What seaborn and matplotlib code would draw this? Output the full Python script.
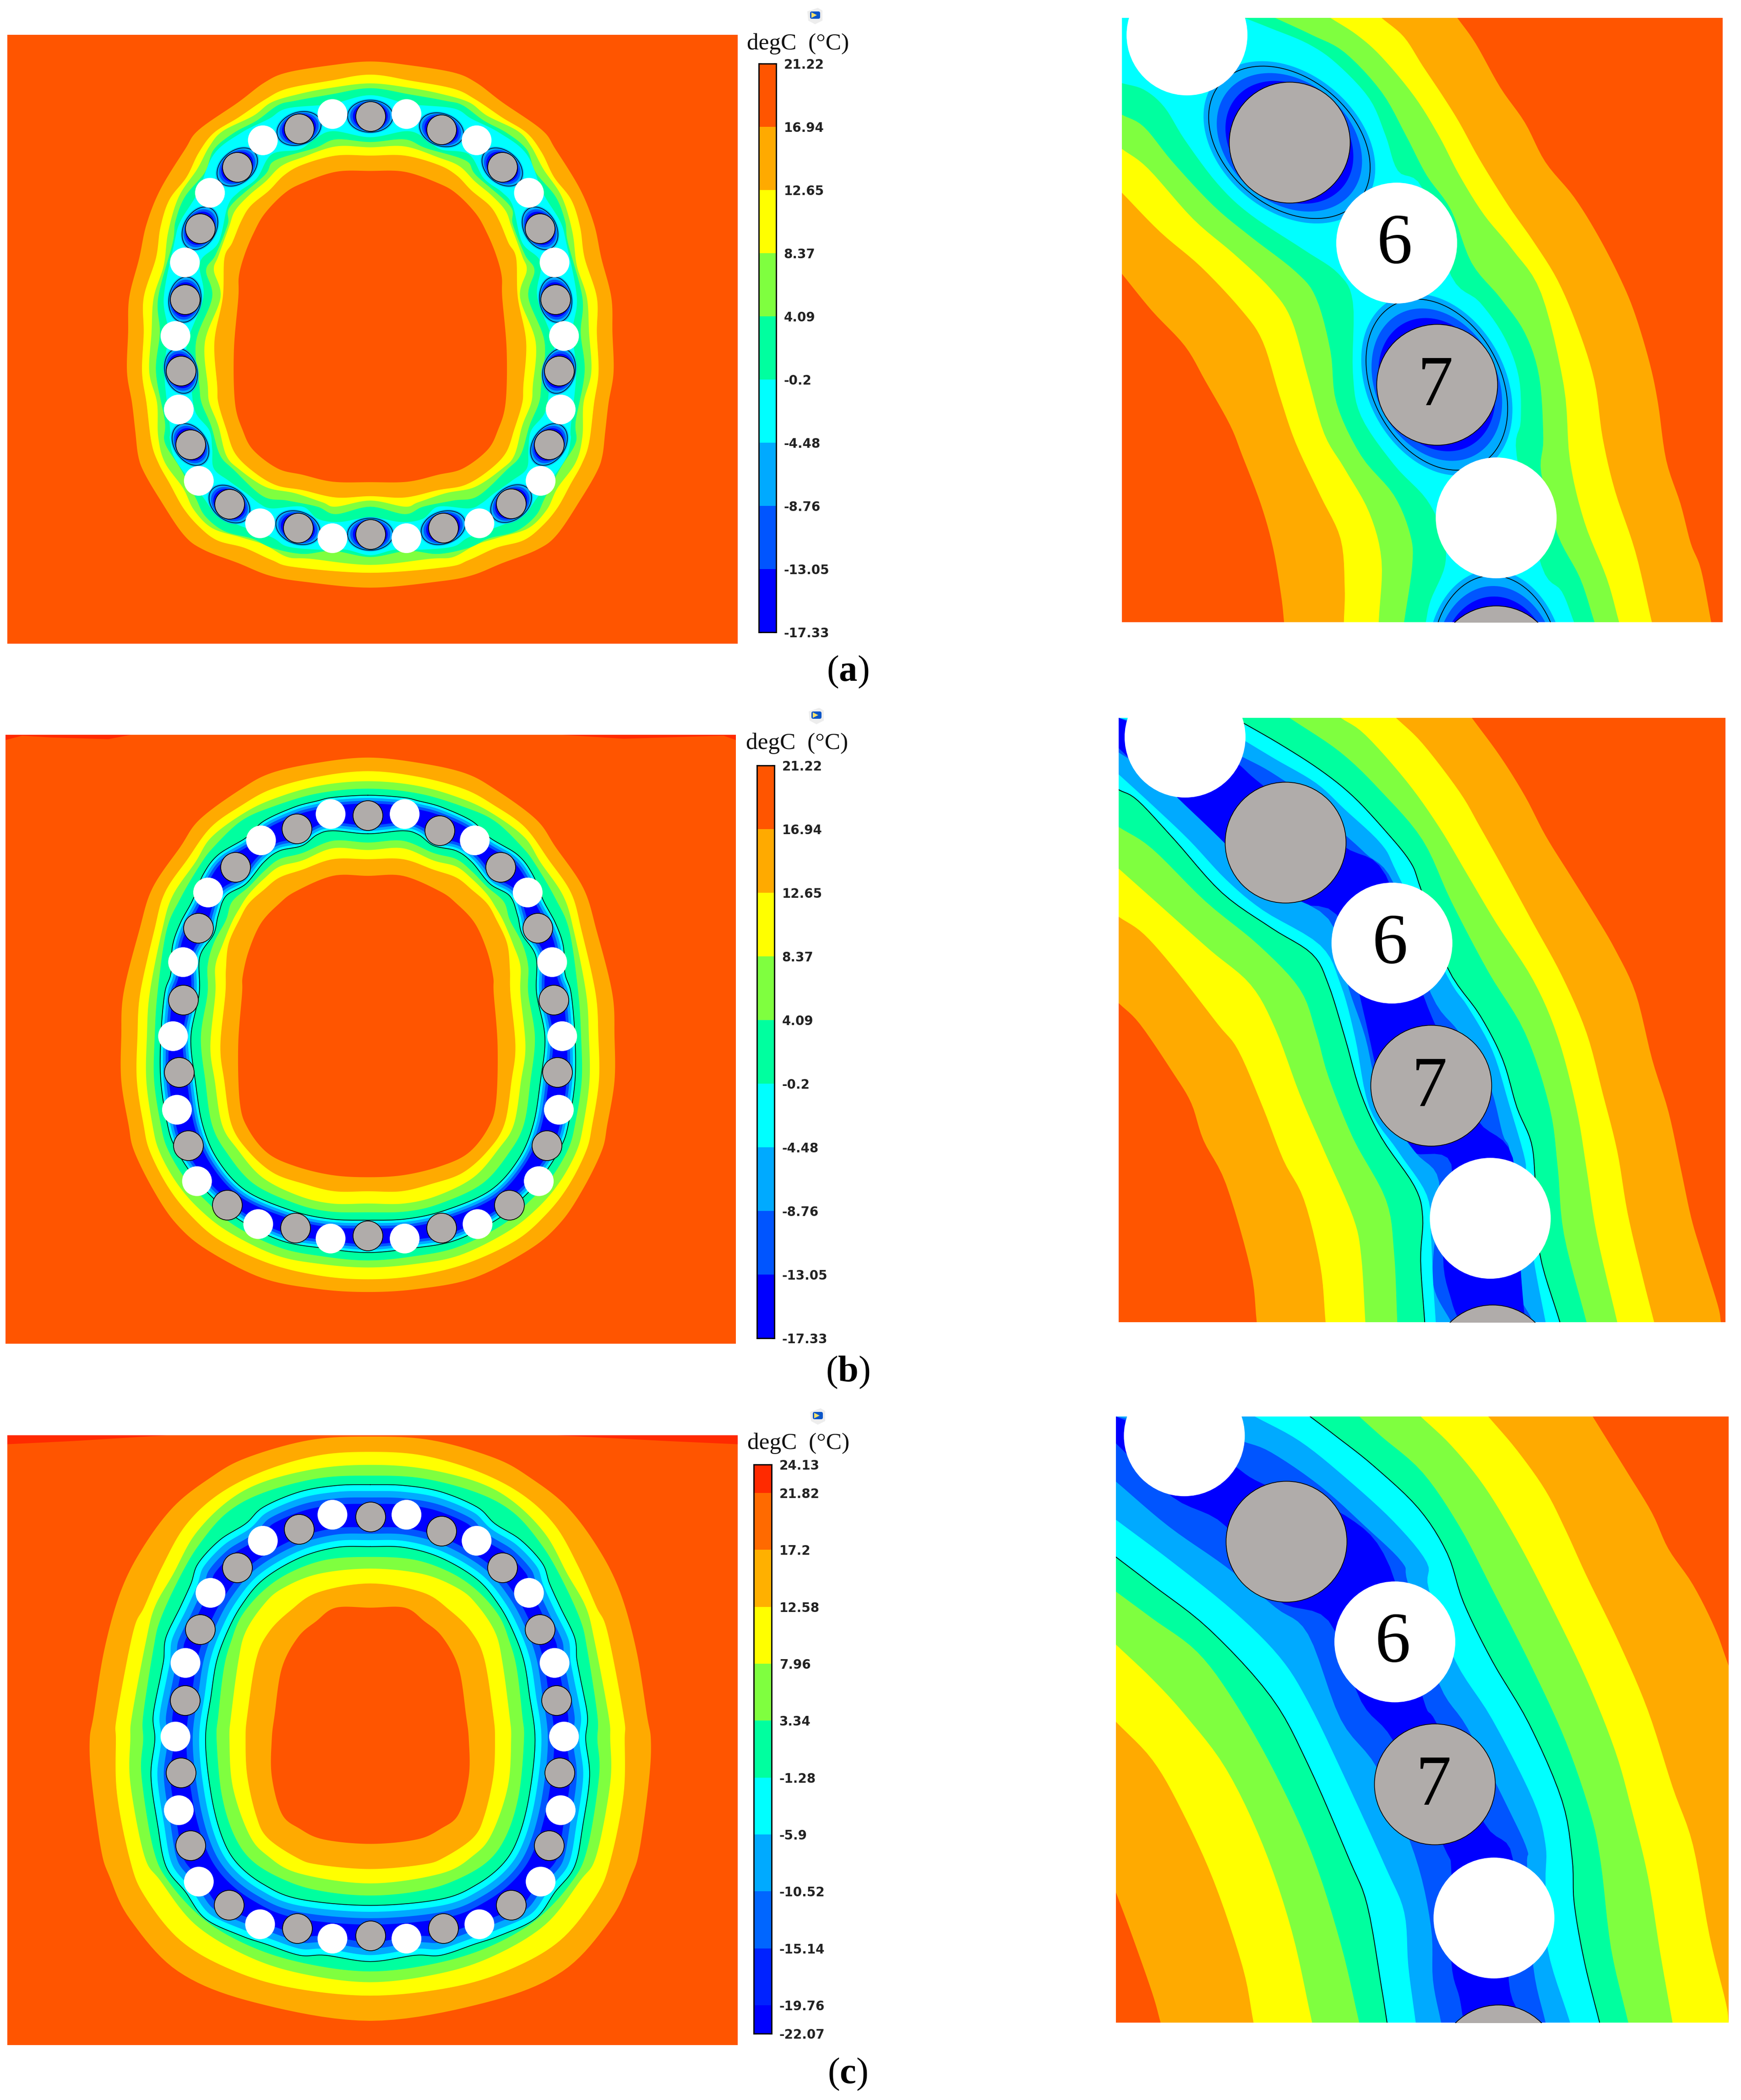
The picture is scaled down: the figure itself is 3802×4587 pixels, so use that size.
import numpy as np
import pandas as pd
import matplotlib
matplotlib.use("Agg")
import matplotlib.pyplot as plt
import seaborn as sns
from matplotlib.colors import ListedColormap
from matplotlib.patches import Polygon, FancyBboxPatch

W, H = 3802, 4587

BG, ORANGE, YELLOW, LIME, SPRING, CYAN = "#FF5500", "#FFAA00", "#FFFF00", "#7FFF3F", "#00FF9F", "#00FFFF"
SKY, MID, DEEP, RED = "#00AAFF", "#0055FF", "#0000FF", "#FF2A00"
PIPE_GRAY = "#B0ACAA"

# colour bars
A_TICKS = ["21.22", "16.94", "12.65", "8.37", "4.09", "-0.2", "-4.48", "-8.76", "-13.05", "-17.33"]
C_TICKS = ["24.13", "21.82", "17.2", "12.58", "7.96", "3.34", "-1.28", "-5.9", "-10.52", "-15.14", "-19.76", "-22.07"]
A_BAR_COLORS = [BG, ORANGE, YELLOW, LIME, SPRING, CYAN, SKY, MID, DEEP]
C_BAR_COLORS = [RED, "#FF6A00", "#FFB000", YELLOW, LIME, SPRING, CYAN, SKY, "#0066FF", "#0022FF", DEEP]
C_BAR_ROWS = [1, 2, 2, 2, 2, 2, 2, 2, 2, 2, 1]

# pipes
A_GRAY_X = [665, 537, 793, 426, 902, 359, 970, 332, 998, 325, 1004, 342, 986, 412, 918, 535, 796, 665]
A_GRAY_Y = [265, 293, 296, 381, 381, 521, 521, 684, 684, 847, 847, 1015, 1015, 1151, 1150, 1205, 1205, 1220]
A_WHITE_X = [597, 730, 472, 856, 377, 950, 332, 996, 315, 1013, 321, 1007, 357, 971, 467, 861, 597, 730]
A_WHITE_Y = [260, 260, 320, 320, 440, 440, 599, 599, 767, 767, 935, 935, 1098, 1098, 1195, 1195, 1229, 1229]
B_GRAY_X = [661, 533, 790, 423, 899, 356, 966, 329, 995, 322, 1001, 338, 982, 408, 915, 531, 793, 661]
B_GRAY_Y = [294, 324, 328, 412, 412, 551, 551, 715, 715, 880, 880, 1047, 1047, 1183, 1183, 1236, 1236, 1253]
B_WHITE_X = [594, 727, 469, 853, 374, 948, 329, 992, 311, 1010, 318, 1004, 354, 968, 464, 858, 594, 727]
B_WHITE_Y = [291, 291, 351, 351, 470, 470, 629, 629, 798, 798, 966, 966, 1129, 1129, 1227, 1227, 1260, 1260]
C_GRAY_X = [665, 537, 793, 426, 902, 359, 970, 332, 999, 325, 1005, 342, 986, 411, 918, 534, 796, 665]
C_GRAY_Y = [268, 296, 300, 382, 382, 519, 519, 677, 677, 838, 838, 1000, 1000, 1133, 1133, 1185, 1185, 1201]
C_WHITE_X = [597, 730, 472, 856, 378, 950, 333, 996, 315, 1013, 321, 1007, 357, 971, 467, 861, 597, 730]
C_WHITE_Y = [264, 264, 322, 322, 438, 438, 594, 594, 758, 758, 922, 922, 1081, 1081, 1176, 1176, 1208, 1208]

# ring contours of the left panels as (half width, y)
A_OUTER = [
    [(0, 140), (67, 148), (149, 165), (190, 188), (237, 233), (308, 296), (333, 341), (377, 432), (402, 512), (415, 589), (433, 679), (435, 760), (437, 850), (428, 920), (422, 986), (417, 1040), (407, 1077), (380, 1136), (336, 1220), (300, 1255), (237, 1286), (182, 1314), (122, 1328), (0, 1342)],
    [(0, 170), (73, 184), (149, 202), (188, 226), (237, 268), (281, 303), (308, 348), (330, 404), (361, 456), (377, 519), (385, 589), (407, 679), (407, 760), (410, 850), (402, 920), (393, 1011), (380, 1059), (360, 1105), (336, 1160), (308, 1202), (275, 1234), (226, 1251), (177, 1279), (136, 1295), (0, 1308)],
    [(0, 190), (70, 200), (127, 214), (177, 233), (210, 264), (265, 299), (289, 334), (311, 386), (344, 449), (363, 529), (371, 606), (389, 679), (393, 760), (397, 850), (383, 920), (381, 997), (369, 1056), (336, 1115), (317, 1164), (284, 1206), (232, 1227), (190, 1244), (149, 1272), (108, 1276), (0, 1290)],
    [(0, 201), (70, 215), (136, 230), (166, 240), (204, 275), (245, 303), (281, 341), (297, 393), (333, 449), (350, 505), (355, 554), (381, 679), (378, 760), (385, 850), (369, 962), (369, 1011), (341, 1070), (314, 1136), (297, 1178), (262, 1213), (212, 1230), (177, 1251), (122, 1265), (67, 1258), (0, 1272)],
    [(0, 217), (70, 237), (149, 247), (182, 271), (232, 303), (281, 352), (310, 440), (341, 505), (352, 554), (371, 679), (363, 760), (370, 850), (360, 976), (360, 1004), (349, 1052), (300, 1136), (275, 1178), (237, 1199), (177, 1227), (149, 1248), (95, 1255), (45, 1255), (0, 1268)],
]
A_INNER = [
    [(0, 313), (67, 299), (100, 317), (127, 341), (177, 352), (204, 407), (237, 439), (256, 470), (273, 554), (306, 599), (300, 679), (330, 790), (322, 880), (314, 941), (289, 983), (284, 1025), (281, 1070), (254, 1098), (223, 1126), (199, 1150), (177, 1161), (122, 1157), (94, 1185), (55, 1192), (0, 1181)],
    [(0, 324), (62, 318), (100, 338), (171, 366), (190, 400), (251, 470), (256, 512), (278, 582), (295, 617), (284, 679), (313, 780), (307, 880), (303, 920), (286, 972), (270, 1039), (245, 1073), (193, 1133), (149, 1143), (95, 1157), (62, 1174), (0, 1157)],
    [(0, 336), (62, 334), (122, 359), (160, 379), (188, 414), (218, 446), (243, 481), (254, 519), (273, 585), (281, 617), (269, 679), (297, 780), (292, 880), (289, 920), (273, 972), (259, 1039), (237, 1070), (188, 1112), (136, 1126), (86, 1147), (62, 1157), (0, 1143)],
    [(0, 355), (62, 355), (122, 376), (155, 400), (182, 435), (215, 470), (232, 505), (248, 554), (262, 589), (265, 679), (280, 780), (275, 880), (273, 920), (259, 979), (243, 1035), (210, 1077), (169, 1108), (122, 1119), (62, 1136), (0, 1133)],
    [(0, 390), (62, 392), (122, 418), (155, 442), (190, 488), (210, 533), (226, 582), (236, 630), (237, 679), (245, 800), (243, 920), (229, 983), (210, 1028), (166, 1070), (122, 1084), (67, 1100), (0, 1101)],
]
B_OUTER = [
    [(0, 162), (91, 174), (173, 197), (228, 234), (302, 303), (337, 366), (387, 460), (411, 558), (439, 700), (443, 800), (443, 900), (430, 1000), (420, 1060), (385, 1150), (345, 1225), (290, 1285), (190, 1350), (90, 1375), (0, 1382)],
    [(0, 193), (91, 206), (173, 234), (228, 272), (282, 321), (324, 394), (365, 471), (384, 558), (409, 700), (414, 800), (415, 900), (403, 1000), (392, 1060), (360, 1140), (320, 1205), (265, 1265), (175, 1318), (85, 1345), (0, 1353)],
    [(0, 216), (91, 227), (173, 258), (228, 293), (282, 345), (310, 401), (351, 478), (370, 558), (392, 700), (397, 800), (398, 900), (387, 1000), (375, 1060), (345, 1130), (305, 1190), (250, 1245), (165, 1298), (85, 1318), (0, 1326)],
    [(0, 233), (91, 244), (173, 275), (228, 307), (277, 366), (302, 408), (337, 484), (362, 558), (378, 700), (383, 800), (384, 900), (372, 1000), (360, 1055), (330, 1120), (290, 1175), (240, 1230), (160, 1280), (85, 1300), (0, 1310)],
    [(0, 248), (63, 253), (91, 261), (132, 275), (187, 307), (219, 345), (269, 384), (296, 429), (315, 488), (337, 540), (351, 592), (354, 655), (365, 700), (372, 800), (372, 900), (360, 1000), (347, 1050), (318, 1110), (280, 1165), (230, 1218), (155, 1265), (80, 1282), (0, 1292)],
]
B_INNER = [
    [(0, 336), (63, 329), (91, 338), (118, 363), (159, 375), (187, 401), (219, 450), (255, 478), (269, 523), (277, 565), (302, 617), (303, 700), (318, 800), (310, 900), (297, 1000), (270, 1080), (220, 1150), (140, 1195), (70, 1215), (0, 1218)],
    [(0, 356), (63, 352), (118, 380), (159, 394), (187, 422), (214, 457), (244, 491), (255, 533), (277, 586), (288, 638), (288, 700), (300, 800), (292, 900), (280, 1000), (253, 1065), (205, 1135), (130, 1180), (70, 1198), (0, 1200)],
    [(0, 373), (63, 369), (118, 397), (159, 411), (187, 439), (214, 474), (230, 505), (244, 537), (261, 589), (274, 638), (274, 700), (283, 820), (275, 900), (262, 1000), (235, 1055), (190, 1120), (125, 1162), (65, 1180), (0, 1180)],
    [(0, 394), (63, 394), (118, 418), (159, 436), (187, 464), (214, 495), (230, 530), (250, 586), (255, 645), (256, 700), (265, 820), (258, 900), (245, 1000), (215, 1060), (170, 1110), (115, 1135), (60, 1152), (0, 1152)],
    [(0, 432), (63, 432), (129, 467), (159, 495), (192, 540), (214, 603), (225, 662), (226, 700), (233, 820), (230, 950), (215, 1010), (180, 1065), (130, 1095), (65, 1115), (0, 1120)],
]
C_OUTER = [
    [(0, 90), (110, 98), (224, 138), (289, 183), (354, 247), (410, 340), (449, 437), (478, 566), (497, 711), (504, 765), (501, 850), (484, 1007), (468, 1071), (432, 1164), (345, 1281), (208, 1350), (0, 1391)],
    [(0, 124), (94, 132), (192, 167), (273, 219), (332, 288), (374, 380), (406, 469), (426, 525), (455, 711), (457, 765), (455, 886), (432, 1031), (406, 1112), (341, 1212), (250, 1277), (143, 1317), (0, 1335)],
    [(0, 153), (94, 161), (192, 191), (257, 235), (315, 308), (354, 396), (387, 469), (403, 546), (428, 711), (431, 765), (431, 862), (406, 1023), (377, 1079), (315, 1176), (224, 1245), (127, 1285), (0, 1305)],
    [(0, 177), (94, 183), (192, 215), (257, 259), (306, 328), (341, 400), (377, 497), (390, 566), (408, 711), (408, 765), (411, 846), (390, 1007), (361, 1083), (296, 1168), (208, 1229), (110, 1265), (0, 1281)],
    [(0, 197), (62, 199), (127, 213), (192, 247), (224, 284), (270, 320), (309, 372), (322, 417), (341, 469), (367, 537), (371, 586), (377, 626), (390, 711), (387, 765), (394, 846), (382, 954), (367, 1047), (332, 1104), (296, 1164), (231, 1202), (188, 1220), (127, 1245), (81, 1245), (0, 1259)],
]
C_INNER = [
    [(0, 335), (62, 337), (127, 360), (192, 408), (231, 465), (257, 525), (276, 590), (286, 667), (296, 765), (286, 886), (267, 979), (240, 1039), (192, 1087), (127, 1120), (0, 1134)],
    [(0, 358), (78, 364), (143, 392), (192, 433), (231, 489), (250, 546), (263, 606), (273, 711), (276, 765), (267, 886), (244, 979), (208, 1039), (143, 1083), (78, 1104), (0, 1112)],
    [(0, 384), (94, 396), (159, 429), (192, 465), (224, 525), (237, 590), (250, 711), (253, 765), (247, 870), (218, 975), (185, 1023), (127, 1063), (0, 1085)],
    [(0, 417), (94, 437), (143, 477), (182, 525), (205, 586), (221, 711), (224, 765), (221, 846), (205, 934), (185, 983), (133, 1027), (94, 1043), (0, 1053)],
    [(0, 471), (62, 471), (97, 501), (130, 537), (159, 606), (172, 711), (177, 765), (177, 846), (159, 930), (127, 963), (84, 987), (0, 997)],
]
B_RED_LEFT = [(10, 110), (235, 110), (195, 120), (90, 116), (40, 112), (10, 122)]
B_RED_RIGHT = [(1010, 110), (1322, 110), (1322, 122), (1300, 112), (1120, 119)]
C_RED_LEFT = [(13, 87), (300, 87), (130, 100), (13, 107)]
C_RED_RIGHT = [(1000, 87), (1325, 87), (1325, 107), (1200, 100)]

# close-up panels: edges run from upper right to lower left
RA_EDGES = [
    ([(875, 41), (920, 100), (980, 200), (1040, 280), (1090, 370), (1160, 450), (1220, 540), (1275, 640), (1310, 720), (1345, 830), (1365, 920), (1385, 1050), (1420, 1150), (1445, 1240), (1470, 1300), (1495, 1420)], ORANGE),
    ([(690, 41), (745, 85), (790, 150), (840, 220), (880, 280), (930, 365), (1000, 470), (1060, 550), (1120, 640), (1170, 750), (1210, 870), (1230, 1000), (1260, 1120), (1310, 1260), (1350, 1420)], YELLOW),
    ([(565, 41), (630, 80), (690, 130), (770, 220), (830, 310), (880, 400), (940, 490), (1010, 570), (1080, 670), (1135, 880), (1150, 1050), (1185, 1190), (1240, 1320), (1270, 1420)], LIME),
    ([(430, 41), (520, 80), (600, 120), (690, 210), (750, 310), (800, 400), (860, 480), (910, 600), (980, 680), (1040, 760), (1075, 860), (1085, 1000), (1080, 1080), (1120, 1220), (1175, 1320), (1210, 1420)], SPRING),
    ([(355, 41), (420, 65), (510, 100), (580, 145), (660, 225), (700, 310), (730, 390), (790, 430), (860, 630), (930, 690), (990, 770), (1025, 860), (1030, 960), (1020, 1040), (1080, 1290), (1130, 1350), (1160, 1420)], CYAN),
    ([(56, 190), (110, 205), (160, 245), (210, 320), (290, 420), (370, 490), (500, 570), (585, 625), (620, 690), (620, 850), (640, 950), (720, 1060), (800, 1140), (840, 1220), (845, 1290), (810, 1370), (798, 1420)], SPRING),
    ([(56, 262), (110, 290), (180, 370), (280, 470), (370, 540), (480, 620), (530, 680), (565, 800), (580, 920), (640, 1040), (720, 1130), (760, 1220), (765, 1290), (745, 1420)], LIME),
    ([(56, 340), (120, 385), (230, 500), (330, 580), (420, 660), (470, 730), (510, 860), (550, 990), (600, 1070), (660, 1170), (690, 1280), (683, 1420)], YELLOW),
    ([(56, 440), (150, 530), (250, 610), (350, 710), (400, 780), (440, 900), (480, 1010), (540, 1130), (590, 1230), (600, 1340), (598, 1420)], ORANGE),
    ([(56, 625), (130, 710), (210, 790), (260, 870), (320, 970), (350, 1040), (395, 1150), (425, 1250), (445, 1360), (452, 1420)], BG),
]
RB_EDGES = [
    ([(910, 71), (980, 160), (1040, 250), (1090, 340), (1150, 430), (1210, 520), (1260, 600), (1310, 700), (1350, 850), (1390, 970), (1420, 1100), (1445, 1210), (1470, 1290), (1510, 1410), (1518, 1450)], ORANGE),
    ([(725, 71), (790, 130), (880, 240), (930, 320), (990, 420), (1060, 540), (1130, 660), (1190, 790), (1230, 930), (1265, 1060), (1290, 1200), (1325, 1340), (1355, 1450)], YELLOW),
    ([(590, 71), (650, 110), (750, 215), (830, 320), (900, 430), (970, 540), (1060, 670), (1120, 800), (1165, 960), (1190, 1100), (1215, 1250), (1265, 1450)], LIME),
    ([(465, 71), (590, 150), (690, 240), (790, 350), (860, 490), (950, 650), (1040, 790), (1100, 960), (1120, 1100), (1135, 1250), (1190, 1450)], SPRING),
    ([(330, 71), (440, 130), (540, 190), (620, 250), (700, 330), (760, 400), (785, 460), (850, 640), (930, 750), (985, 850), (1020, 960), (1055, 1040), (1065, 1130), (1075, 1290), (1125, 1450)], CYAN),
    ([(350, 120), (430, 165), (530, 220), (600, 280), (690, 360), (730, 430), (850, 660), (900, 730), (960, 830), (1000, 950), (1040, 1080), (1040, 1130), (1060, 1300), (1090, 1450)], SKY),
    ([(350, 160), (420, 195), (520, 260), (580, 320), (650, 380), (720, 450), (810, 700), (880, 790), (950, 900), (985, 1020), (1005, 1080), (1010, 1340), (1060, 1450)], MID),
    ([(345, 180), (400, 225), (590, 360), (700, 430), (790, 700), (860, 850), (925, 990), (1010, 1075), (1030, 1340), (1040, 1450)], DEEP),
    ([(48, 140), (170, 250), (240, 300), (310, 380), (430, 490), (580, 520), (640, 720), (720, 1040), (770, 1065), (860, 1090), (840, 1300), (860, 1400), (880, 1450)], MID),
    ([(48, 150), (130, 200), (210, 270), (310, 360), (400, 450), (560, 530), (610, 690), (650, 800), (690, 950), (770, 1060), (830, 1130), (815, 1310), (820, 1380), (860, 1450)], SKY),
    ([(48, 200), (130, 270), (220, 350), (310, 440), (400, 510), (540, 590), (590, 680), (625, 800), (660, 960), (730, 1060), (800, 1160), (810, 1250), (815, 1350), (822, 1450)], CYAN),
    ([(48, 235), (95, 260), (185, 350), (300, 470), (420, 550), (520, 610), (560, 680), (600, 800), (640, 930), (690, 1030), (770, 1140), (790, 1210), (785, 1310), (795, 1450)], SPRING),
    ([(48, 320), (130, 370), (260, 490), (390, 590), (490, 690), (530, 790), (560, 890), (620, 1030), (700, 1170), (720, 1290), (728, 1450)], LIME),
    ([(48, 415), (150, 500), (270, 600), (370, 680), (430, 780), (490, 930), (550, 1060), (620, 1210), (640, 1300), (650, 1450)], YELLOW),
    ([(48, 525), (110, 565), (190, 650), (290, 770), (340, 830), (400, 960), (450, 1080), (500, 1170), (540, 1320), (553, 1450)], ORANGE),
    ([(48, 722), (100, 770), (180, 880), (225, 950), (255, 1035), (310, 1135), (370, 1330), (385, 1450)], BG),
]
RC_EDGES = [
    ([(1205, 45), (1290, 170), (1350, 260), (1390, 340), (1450, 420), (1505, 520), (1545, 620), (1700, 1000), (1700, 1395)], ORANGE),
    ([(950, 45), (1020, 120), (1090, 210), (1140, 300), (1190, 400), (1270, 550), (1340, 700), (1400, 870), (1450, 1000), (1490, 1200), (1530, 1350), (1537, 1395)], YELLOW),
    ([(785, 45), (860, 110), (940, 200), (1020, 320), (1100, 460), (1190, 630), (1260, 790), (1300, 920), (1340, 1070), (1370, 1240), (1400, 1395)], LIME),
    ([(635, 45), (690, 90), (790, 170), (880, 290), (960, 430), (1060, 610), (1140, 770), (1200, 930), (1225, 1040), (1250, 1230), (1292, 1395)], SPRING),
    ([(515, 45), (580, 90), (670, 155), (780, 250), (850, 350), (890, 460), (960, 590), (1050, 730), (1130, 900), (1155, 1030), (1160, 1130), (1185, 1260), (1222, 1395)], CYAN),
    ([(380, 45), (490, 100), (600, 180), (720, 280), (800, 370), (805, 430), (870, 590), (960, 720), (1060, 900), (1090, 1000), (1090, 1080), (1095, 1230), (1150, 1395)], SKY),
    ([(350, 100), (420, 125), (540, 200), (650, 290), (740, 370), (755, 420), (830, 640), (900, 740), (1000, 920), (1045, 1010), (1045, 1050), (1060, 1270), (1090, 1395)], MID),
    ([(330, 155), (400, 195), (600, 265), (710, 380), (790, 670), (825, 730), (940, 950), (1010, 1030), (1000, 1300), (1040, 1395)], DEEP),
    ([(41, 105), (180, 225), (310, 290), (430, 450), (560, 500), (640, 680), (720, 770), (840, 1000), (860, 1060), (860, 1260), (880, 1340), (890, 1395)], MID),
    ([(41, 190), (170, 290), (310, 380), (430, 470), (510, 530), (590, 720), (680, 830), (770, 1020), (810, 1180), (815, 1300), (835, 1395)], SKY),
    ([(41, 275), (180, 370), (330, 480), (440, 580), (510, 680), (600, 850), (700, 1050), (745, 1150), (755, 1270), (773, 1395)], CYAN),
    ([(41, 358), (130, 420), (270, 520), (420, 670), (510, 820), (610, 1030), (655, 1135), (690, 1320), (703, 1395)], SPRING),
    ([(41, 435), (130, 495), (240, 570), (330, 680), (430, 840), (520, 1020), (590, 1220), (635, 1395)], LIME),
    ([(41, 553), (130, 630), (210, 710), (310, 830), (400, 1000), (470, 1190), (520, 1395)], YELLOW),
    ([(41, 725), (130, 810), (200, 920), (280, 1080), (350, 1270), (377, 1395)], ORANGE),
    ([(41, 1105), (80, 1200), (130, 1330), (150, 1395)], BG),
]
RB_BLACK = [4, 11]
RC_BLACK = [4, 11]

# close-up pipes
RA_WHITE_X, RA_WHITE_Y = [215, 727, 970], [80, 555, 1182]
RA_GRAY_X, RA_GRAY_Y = [465, 825, 970], [325, 878, 1520]
RA_HALO_ANGLE = [40, 62, 85]
RB_WHITE_X, RB_WHITE_Y = [210, 715, 955], [115, 585, 1213]
RB_GRAY_X, RB_GRAY_Y = [455, 810, 960], [355, 910, 1548]
RC_WHITE_X, RC_WHITE_Y = [208, 722, 964], [88, 547, 1162]
RC_GRAY_X, RC_GRAY_Y = [457, 819, 975], [323, 864, 1490]


def px_axes(fig, x0, y0, x1, y1):
    return fig.add_axes([x0 / W, 1 - y1 / H, (x1 - x0) / W, (y1 - y0) / H])


def smooth(points, closed=False, n=10):
    """Catmull-Rom curve through the points."""
    p = np.asarray(points, dtype=float)
    if closed:
        p = np.vstack([p[-1], p, p[0], p[1]])
    else:
        p = np.vstack([2 * p[0] - p[1], p, 2 * p[-1] - p[-2]])
    t = np.linspace(0, 1, n, endpoint=False)[:, None]
    out = []
    for i in range(1, len(p) - 2):
        a, b, c, d = p[i - 1], p[i], p[i + 1], p[i + 2]
        out.append(0.5 * (2 * b + (c - a) * t + (2 * a - 5 * b + 4 * c - d) * t ** 2 + (3 * b - a - 3 * c + d) * t ** 3))
    out = np.vstack(out)
    if not closed:
        out = np.vstack([out, p[-2]])
    return out


def ring(edge, cx):
    right = [(cx + hw, y) for hw, y in edge]
    left = [(cx - hw, y) for hw, y in edge[-2:0:-1]]
    return smooth(right + left, closed=True)


def shift_ring(curve, dist, sx, sy):
    """Moves a closed curve towards its own centre by dist pixels."""
    q = curve * [sx, sy]
    tang = np.roll(q, -1, axis=0) - np.roll(q, 1, axis=0)
    norm = np.column_stack([-tang[:, 1], tang[:, 0]])
    norm /= np.maximum(np.linalg.norm(norm, axis=1, keepdims=True), 1e-6)
    mid = q.mean(axis=0)
    flip = np.sign(((mid - q) * norm).sum(axis=1, keepdims=True))
    return (q + norm * flip * dist) / [sx, sy]


def halo(ax, cx, cy, angle, scale, sx, sy, lw):
    """Cold zone round a gray pipe, sized in close-up pixels."""
    th = np.radians(angle)
    t = np.linspace(0, 2 * np.pi, 120)

    def shape(a, b):
        a, b = a * scale, b * scale
        dx = a * np.cos(t) * np.cos(th) - b * np.sin(t) * np.sin(th)
        dy = a * np.cos(t) * np.sin(th) + b * np.sin(t) * np.cos(th)
        return cx + dx / sx, cy + dy / sy

    for a, b, col in [(210, 150, SKY), (175, 132, MID), (152, 120, DEEP)]:
        ax.fill(*shape(a, b), color=col, lw=0, zorder=3)
    ax.plot(*shape(198, 140), color="black", lw=lw, zorder=3.5)


def pipes(ax, x, y, colour, size, edge="none"):
    table = pd.DataFrame({"x": x, "y": y})
    sns.scatterplot(data=table, x="x", y="y", ax=ax, s=size, color=colour, edgecolor=edge,
                    linewidth=1.2 if edge != "none" else 0, zorder=4, legend=False)


def finish(ax, xlim, ylim):
    ax.set_xlim(*xlim)
    ax.set_ylim(*ylim)
    ax.set(xlabel="", ylabel="", xticks=[], yticks=[])
    for s in ax.spines.values():
        s.set_visible(False)


def ring_panel(fig, rect, xlim, ylim, cx, outer, inner, gray, white, band_px=0, halos=False, red=()):
    ax = px_axes(fig, *rect)
    ax.set_facecolor(BG)
    sx = (rect[2] - rect[0]) / (xlim[1] - xlim[0])
    sy = (rect[3] - rect[1]) / (ylim[0] - ylim[1])
    for part in red:
        ax.add_patch(Polygon(part, closed=True, color=RED, lw=0))
    for edge, col in zip(outer, [ORANGE, YELLOW, LIME, SPRING, CYAN]):
        ax.fill(*ring(edge, cx).T, color=col, lw=0)
    if band_px:
        line_out = ring(outer[-1], cx)
        line_in = ring(inner[0], cx)
        for k, col in enumerate([SKY, MID, DEEP], start=1):
            ax.fill(*shift_ring(line_out, k * band_px, sx, sy).T, color=col, lw=0)
        for k, col in zip([3, 2, 1], [MID, SKY, CYAN]):
            ax.fill(*shift_ring(line_in, -k * band_px, sx, sy).T, color=col, lw=0)
    for edge, col in zip(inner, [SPRING, LIME, YELLOW, ORANGE, BG]):
        ax.fill(*ring(edge, cx).T, color=col, lw=0)
    if band_px:
        for line in (line_out, line_in):
            ax.plot(*np.vstack([line, line[0]]).T, color="black", lw=1.1, zorder=2)
    if halos:
        for x, y in zip(*gray):
            angle = np.degrees(np.arctan2((y - 740) * sy, (x - cx) * sx)) + 90
            halo(ax, x, y, angle, 0.25, sx, sy, 0.9)
    pipes(ax, gray[0], gray[1], PIPE_GRAY, 2190, "black")
    pipes(ax, white[0], white[1], "white", 2190)
    finish(ax, xlim, ylim)


def zoom_panel(fig, rect, xlim, ylim, edges, black, gray, white, halo_angles=None):
    ax = px_axes(fig, *rect)
    ax.set_facecolor(BG)
    sx = (rect[2] - rect[0]) / (xlim[1] - xlim[0])
    sy = (rect[3] - rect[1]) / (ylim[0] - ylim[1])
    for pts, col in edges:
        curve = smooth(pts, n=6)
        tail = [(xlim[0], ylim[0])]
        if pts[0][0] > xlim[0]:
            tail.append((xlim[0], ylim[1]))
        ax.fill(*np.vstack([curve, tail]).T, color=col, lw=0)
    for i in black:
        ax.plot(*smooth(edges[i][0], n=6).T, color="black", lw=1.3, zorder=2)
    if halo_angles:
        for x, y, ang in zip(gray[0], gray[1], halo_angles):
            halo(ax, x, y, ang, 1.0, sx, sy, 1.2)
    pipes(ax, gray[0], gray[1], PIPE_GRAY, 36130, "black")
    pipes(ax, white[0], white[1], "white", 36130)
    ax.text(white[0][1] - 5, white[1][1] + 5, "6", family="Liberation Serif", fontsize=112,
            ha="center", va="center", color="black", zorder=6)
    ax.text(gray[0][1] - 3, gray[1][1] + 7, "7", family="Liberation Serif", fontsize=112,
            ha="center", va="center", color="black", zorder=6)
    finish(ax, xlim, ylim)


def colour_bar(fig, rect, colors, rows, ticks):
    ax = px_axes(fig, *rect)
    codes = np.repeat(np.arange(len(colors)), rows)[:, None]
    sns.heatmap(codes, ax=ax, cmap=ListedColormap(colors), vmin=-0.5, vmax=len(colors) - 0.5,
                cbar=False, xticklabels=False, yticklabels=False)
    for s in ax.spines.values():
        s.set_visible(True)
        s.set_color("black")
        s.set_linewidth(2.0)
    pos = np.concatenate([[0], np.cumsum(rows)])
    ax.set_yticks(pos)
    ax.set_yticklabels(ticks, fontsize=20, fontweight="bold", color="#222222", family="DejaVu Sans")
    ax.tick_params(axis="y", left=True, right=True, labelleft=False, labelright=True,
                   direction="in", length=4, width=2, pad=12, color="black")


def icon(fig, x, y):
    ax = px_axes(fig, x - 20, y - 20, x + 20, y + 20)
    ax.set_xlim(0, 40)
    ax.set_ylim(40, 0)
    ax.axis("off")
    ax.add_patch(Polygon([(3, 10), (26, 2), (36, 8), (36, 30), (20, 38), (5, 30)], color="#EDEDED", lw=0))
    ax.add_patch(FancyBboxPatch((9, 10), 22, 16, boxstyle="round,pad=0,rounding_size=4", color="#0A55C8", lw=0))
    ax.add_patch(Polygon([(12, 12), (24, 18), (12, 24)], color="#F5E06A", lw=0))


def main():
    sns.set_theme(style="white")
    plt.rcParams["font.family"] = ["DejaVu Sans"]
    plt.rcParams["mathtext.fontset"] = "custom"
    plt.rcParams["mathtext.rm"] = "Liberation Serif"
    plt.rcParams["mathtext.bf"] = "Liberation Serif:bold"
    fig = plt.figure(figsize=(W / 100, H / 100), dpi=100, facecolor="white")

    ring_panel(fig, (16, 76, 1611, 1406), (13, 1325), (1470, 79), 665, A_OUTER, A_INNER,
               (A_GRAY_X, A_GRAY_Y), (A_WHITE_X, A_WHITE_Y), halos=True)
    ring_panel(fig, (12, 1605, 1607, 2935), (10, 1322), (1500, 110), 661, B_OUTER, B_INNER,
               (B_GRAY_X, B_GRAY_Y), (B_WHITE_X, B_WHITE_Y), band_px=6, red=(B_RED_LEFT, B_RED_RIGHT))
    ring_panel(fig, (16, 3135, 1611, 4467), (13, 1325), (1445, 87), 665, C_OUTER, C_INNER,
               (C_GRAY_X, C_GRAY_Y), (C_WHITE_X, C_WHITE_Y), band_px=14, red=(C_RED_LEFT, C_RED_RIGHT))

    zoom_panel(fig, (2450, 39, 3762, 1359), (56, 1523), (1420, 41), RA_EDGES, [],
               (RA_GRAY_X, RA_GRAY_Y), (RA_WHITE_X, RA_WHITE_Y), RA_HALO_ANGLE)
    zoom_panel(fig, (2443, 1568, 3768, 2888), (48, 1529), (1450, 71), RB_EDGES, RB_BLACK,
               (RB_GRAY_X, RB_GRAY_Y), (RB_WHITE_X, RB_WHITE_Y))
    zoom_panel(fig, (2437, 3094, 3775, 4418), (41, 1537), (1395, 45), RC_EDGES, RC_BLACK,
               (RC_GRAY_X, RC_GRAY_Y), (RC_WHITE_X, RC_WHITE_Y))

    colour_bar(fig, (1657, 139, 1695, 1381), A_BAR_COLORS, [1] * 9, A_TICKS)
    colour_bar(fig, (1653, 1672, 1691, 2923), A_BAR_COLORS, [1] * 9, A_TICKS)
    colour_bar(fig, (1646, 3199, 1685, 4442), C_BAR_COLORS, C_BAR_ROWS, C_TICKS)

    for x, y in [(1743, 96), (1741, 1624), (1744, 3153)]:
        fig.text(x / W, 1 - y / H, "degC  (°C)", family="Liberation Serif", fontsize=37,
                 ha="center", va="center", color="#111111")
    for x, y in [(1780, 35), (1783, 1564), (1786, 3094)]:
        icon(fig, x, y)
    for y, tag in [(1468, "a"), (2998, "b"), (4531, "c")]:
        fig.text(1851 / W, 1 - y / H, r"($\mathbf{" + tag + "}$)", family="Liberation Serif",
                 fontsize=58, ha="center", va="center", color="black")

    fig.savefig("out.png", dpi=100, facecolor="white")


if __name__ == "__main__":
    main()
